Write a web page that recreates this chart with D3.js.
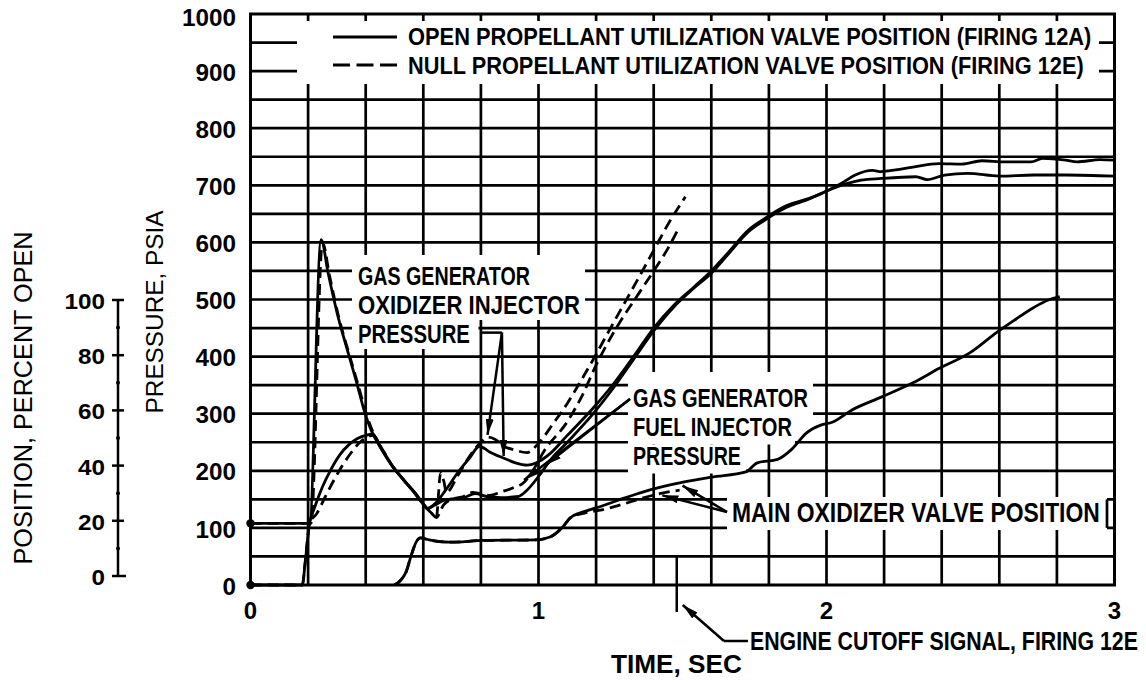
<!DOCTYPE html>
<html>
<head>
<meta charset="utf-8">
<script src="https://cdnjs.cloudflare.com/ajax/libs/d3/7.8.5/d3.min.js"></script>
<style>
  html, body { margin: 0; padding: 0; background: #fff; }
  svg text { font-family: "Liberation Sans Narrow", "Liberation Sans", Arial, sans-serif; font-weight: bold; fill: #000; }
  svg text.title { font-family: "Liberation Sans", Arial, sans-serif; font-weight: normal; }
</style>
</head>
<body>
<svg id="chart" width="1146" height="682"></svg>
<script>
// ---- Gas generator start transient: time (sec) vs pressure (psia) ----
// Firing 12A, open propellant utilization valve (solid)
const oxInjectorOpen = [
  [0,108],[0.205,108],[0.245,605],[0.27,545],[0.30,478],[0.34,405],[0.37,352],[0.395,305],
  [0.42,270],[0.45,242],[0.49,210],[0.53,185],[0.57,162],[0.60,142],[0.615,134],[0.64,142],
  [0.68,168],[0.72,197],[0.76,222],[0.795,243],[0.83,233],[0.88,222],[0.92,214],[0.96,210],
  [1.0,216],[1.04,230],[1.1,262],[1.19,310],[1.26,352],[1.33,400],[1.4,450],[1.47,490],
  [1.54,522],[1.6,550],[1.66,583],[1.73,622],[1.78,640],[1.86,664],[1.94,677],[1.98,685],
  [2.06,706],[2.1,718],[2.16,726],[2.19,724],[2.24,727],[2.3,732],[2.39,738],[2.47,737],
  [2.54,743],[2.62,741],[2.71,741],[2.75,747],[2.83,744],[2.87,741],[2.95,745],[3.0,744]
];
const fuelInjectorOpen = [
  [0,0],[0.18,0],[0.19,40],[0.205,108],[0.22,132],[0.25,172],[0.28,203],[0.31,228],[0.34,245],
  [0.37,256],[0.40,262],[0.425,264],[0.45,242],[0.49,210],[0.53,185],[0.57,162],[0.60,142],
  [0.615,134],[0.64,140],[0.67,148],[0.70,151],[0.74,153],[0.78,160],[0.82,155],[0.87,153],
  [0.93,155],[0.96,166],[1.0,190],[1.04,218],[1.1,250],[1.19,300],[1.26,345],[1.33,395],
  [1.4,445],[1.47,487],[1.54,520],[1.6,546],[1.66,580],[1.73,619],[1.78,637],[1.86,661],
  [1.94,676],[2.0,690],[2.07,703],[2.12,709],[2.19,712],[2.31,715],[2.35,710],[2.41,718],
  [2.49,721],[2.6,716],[2.72,718],[2.83,718],[3.0,716]
];
// Firing 12E, null propellant utilization valve (dashed), cutoff near 1.5 sec
const oxInjectorNull = [
  [0,108],[0.21,108],[0.25,600],[0.275,540],[0.305,472],[0.345,400],[0.375,348],[0.40,303],
  [0.425,268],[0.455,240],[0.495,207],[0.535,182],[0.575,158],[0.605,138],[0.63,125],
  [0.645,118],[0.66,196],[0.672,180],[0.68,162],[0.72,192],[0.76,225],[0.80,250],[0.825,259],
  [0.85,255],[0.88,243],[0.92,236],[0.96,232],[1.0,248],[1.05,282],[1.1,318],[1.15,360],
  [1.2,404],[1.25,450],[1.3,495],[1.35,540],[1.4,586],[1.45,632],[1.51,680]
];
const fuelInjectorNull = [
  [0,0],[0.18,0],[0.19,40],[0.205,108],[0.23,125],[0.26,155],[0.29,184],[0.32,210],[0.35,232],
  [0.38,250],[0.405,259],[0.425,262],[0.455,240],[0.495,207],[0.535,182],[0.575,158],
  [0.605,138],[0.63,125],[0.645,118],[0.67,140],[0.70,150],[0.74,155],[0.77,162],[0.80,160],
  [0.83,157],[0.87,163],[0.91,170],[0.95,180],[0.98,200],[1.02,235],[1.1,286],[1.15,330],
  [1.2,385],[1.27,450],[1.35,512],[1.4,550],[1.45,590],[1.49,628]
];
// Main oxidizer valve position, percent open
const valveOpen = [
  [0.5,0],[0.52,1.5],[0.54,4.5],[0.56,11],[0.575,15],[0.59,16.5],[0.62,15.8],[0.69,15],
  [0.81,15.6],[0.99,15.8],[1.04,16.8],[1.085,20.4],[1.11,23.5],[1.155,25.6],[1.2,27],
  [1.3,30.5],[1.39,33.4],[1.49,35.8],[1.6,37.8],[1.72,39.6],[1.76,42.8],[1.83,44],
  [1.88,47.6],[1.93,53.2],[1.98,56],[2.02,57],[2.09,61.4],[2.19,65.8],[2.3,70.8],
  [2.39,75.8],[2.5,81.5],[2.59,88.4],[2.65,92.6],[2.72,97.2],[2.77,99.8],[2.81,101]
];
const valveNull = [
  [0.5,0],[0.52,1.5],[0.54,4.5],[0.56,11],[0.575,15],[0.59,16.5],[0.62,15.8],[0.69,15],
  [0.81,15.6],[0.99,15.8],[1.04,16.8],[1.085,20.4],[1.11,23.5],[1.16,25.2],[1.22,26.3],
  [1.29,28.2],[1.36,30.4],[1.43,32.2],[1.49,33.2]
];

// Axis ticks and labels
const timeTicks = [0, 1, 2, 3];
const pressureTicks = [0,100,200,300,400,500,600,700,800,900,1000];
const positionTicks = [0,20,40,60,80,100];
const positionMinor = [10,30,50,70,90];
const legendLabels = [
  "OPEN PROPELLANT UTILIZATION VALVE POSITION (FIRING 12A)",
  "NULL PROPELLANT UTILIZATION VALVE POSITION (FIRING 12E)"
];
const engineCutoffTime = 1.48;

// ---- scales ----
const x = d3.scaleLinear().domain([0, 3]).range([250.5, 1114.5]);
const y = d3.scaleLinear().domain([0, 1000]).range([585, 14]);
const yPos = d3.scaleLinear().domain([0, 100]).range([576, 300]);
const psiPerPercent = 5;   // valve trace shares the grid: 100 % open = 500 psia line

const svg = d3.select("#chart");
svg.append("rect").attr("width", 1146).attr("height", 682).attr("fill", "#fff");

const ink = "#000";
const gridW = 2.7, curveW = 2.8;

// ---- grid ----
const grid = svg.append("g").attr("stroke", ink).attr("stroke-width", gridW);
d3.range(1, 15).map(i => i * 0.2).forEach(t => {
  grid.append("line").attr("x1", x(t)).attr("x2", x(t)).attr("y1", y(0)).attr("y2", y(1000));
});
d3.range(50, 1000, 50).forEach(p => {
  grid.append("line").attr("x1", x(0)).attr("x2", x(3)).attr("y1", y(p)).attr("y2", y(p));
});

// white panels behind the legend and the callout texts
const panels = svg.append("g").attr("fill", "#fff");
function panel(x0, x1, y0, y1) {
  panels.append("rect").attr("x", x0).attr("y", y0).attr("width", x1 - x0).attr("height", y1 - y0);
}
panel(297, 1099, 15.5, 84);      // legend
panel(352, 585, 255, 320);       // oxidizer callout, rows 1-2
panel(352, 478.5, 320, 349);     // oxidizer callout, row 3
panel(628, 813, 372, 416);       // fuel callout, row 1
panel(628, 795, 416, 444.5);     // fuel callout, row 2
panel(628, 746, 444.5, 473.5);   // fuel callout, row 3
panel(727, 1107, 497, 530);      // valve callout

// bracket closing the valve callout
svg.append("line").attr("x1", 1107).attr("x2", 1107).attr("y1", y(150)).attr("y2", y(100))
  .attr("stroke", ink).attr("stroke-width", gridW);

// top-edge ticks above the legend
d3.range(1, 15).map(i => i * 0.2).forEach(t => {
  svg.append("line").attr("x1", x(t)).attr("x2", x(t)).attr("y1", y(1000)).attr("y2", y(1000) + 7)
    .attr("stroke", ink).attr("stroke-width", gridW);
});

// plot frame
svg.append("rect").attr("x", x(0)).attr("y", y(1000)).attr("width", x(3) - x(0)).attr("height", y(0) - y(1000))
  .attr("fill", "none").attr("stroke", ink).attr("stroke-width", 3);

// ---- traces ----
const linePsi = d3.line().x(d => x(d[0])).y(d => y(d[1])).curve(d3.curveMonotoneX);
const linePct = d3.line().x(d => x(d[0])).y(d => y(d[1] * psiPerPercent)).curve(d3.curveMonotoneX);
const traces = svg.append("g").attr("fill", "none").attr("stroke", ink).attr("stroke-width", curveW)
  .attr("stroke-linejoin", "round");
const dash = "11,6";
traces.append("path").attr("d", linePsi(oxInjectorNull)).attr("stroke-dasharray", dash);
traces.append("path").attr("d", linePsi(fuelInjectorNull)).attr("stroke-dasharray", dash);
traces.append("path").attr("d", linePct(valveNull)).attr("stroke-dasharray", dash);
traces.append("path").attr("d", linePsi(oxInjectorOpen));
traces.append("path").attr("d", linePsi(fuelInjectorOpen));
traces.append("path").attr("d", linePct(valveOpen));

// starting values marked on the pressure axis
[108, 0].forEach(p => {
  svg.append("circle").attr("cx", x(0)).attr("cy", y(p)).attr("r", 4.2).attr("fill", ink);
});

// ---- leaders and arrows ----
const defs = svg.append("defs");
defs.append("marker").attr("id", "head").attr("viewBox", "0 0 16 8").attr("refX", 16).attr("refY", 4)
  .attr("markerWidth", 16).attr("markerHeight", 8).attr("markerUnits", "userSpaceOnUse").attr("orient", "auto")
  .append("path").attr("d", "M0,0 L16,4 L0,8 Z").attr("fill", ink);

const leaders = svg.append("g").attr("fill", "none").attr("stroke", ink).attr("stroke-width", 2.5);
function leader(points, arrow) {
  const p = leaders.append("path").attr("d", d3.line()(points));
  if (arrow) p.attr("marker-end", "url(#head)");
}
// oxidizer injector pressure callout
const oxElbow = [x(0.873), y(442)];
leader([[x(0.8), y(442)], oxElbow]);
leader([oxElbow, [x(0.823), y(263)]], true);
leader([oxElbow, [x(0.879), y(226)]], true);
// fuel injector pressure callout
const fuelRoot = [630, 399];
leader([fuelRoot, [x(0.95), y(184)]], true);
leader([fuelRoot, [x(1.025), y(210)]], true);
// main oxidizer valve position callout
const valveRoot = [727, 512];
leader([valveRoot, [x(1.5), y(174)]], true);
leader([valveRoot, [x(1.43), y(157)]], true);
// engine cutoff signal marker
leader([[x(engineCutoffTime), y(50)], [x(engineCutoffTime), 612]]);
leader([[748, 641], [724, 641]]);
leader([[724, 641], [x(engineCutoffTime) + 6, 605]], true);

// ---- text ----
// Draws a label whose cap height follows `size` and whose width is exactly `len`:
// the font size is chosen so the natural width equals `len`, then the glyphs are
// stretched vertically back to the intended height.
function put(txt, x0, cy, size, len, anchor, cls, rotate) {
  const g = svg.append("g");
  const t = g.append("text").attr("x", 0).attr("y", 0)
    .attr("font-size", size).attr("text-anchor", anchor || "start").text(txt);
  if (cls) t.attr("class", cls);
  let ky = 1;
  if (len) {
    const w = t.node().getComputedTextLength();
    const s2 = size * len / w;
    t.attr("font-size", s2);
    ky = size / s2;
  }
  const base = 0.36 * size;
  g.attr("transform", `translate(${x0},${cy})` + (rotate ? ` rotate(${rotate})` : "") +
    ` translate(0,${base}) scale(1,${ky})`);
  return t;
}

// legend
svg.append("line").attr("x1", 333).attr("x2", 397).attr("y1", 37).attr("y2", 37)
  .attr("stroke", ink).attr("stroke-width", curveW);
svg.append("line").attr("x1", 333).attr("x2", 397).attr("y1", 65).attr("y2", 65)
  .attr("stroke", ink).attr("stroke-width", curveW).attr("stroke-dasharray", "17,6.5");
put(legendLabels[0], 408, 36, 24, 684);
put(legendLabels[1], 408, 65, 24, 676);

// callouts
put("GAS GENERATOR", 358, 276, 25, 172);
put("OXIDIZER INJECTOR", 358, 305, 25, 222);
put("PRESSURE", 358, 334, 25, 112);
put("GAS GENERATOR", 633, 398, 25, 175);
put("FUEL INJECTOR", 633, 427, 25, 159);
put("PRESSURE", 633, 456, 25, 108);
put("MAIN OXIDIZER VALVE POSITION", 732, 512, 27, 368);
put("ENGINE CUTOFF SIGNAL, FIRING 12E", 750, 641, 26, 388);

// pressure axis labels (digit cell about 13.5 px wide)
const pressureLabelWidth = v => String(v).length * 13.5;
pressureTicks.forEach(v => put(String(v), 236, y(v) + (v === 1000 ? 3 : 1), 24,
  pressureLabelWidth(v), "end"));
// time axis labels
timeTicks.forEach(v => put(String(v), x(v), 610, 24, null, "middle"));
put("TIME, SEC", 611, 664, 25, 131);

// position axis
const posAxis = svg.append("g").attr("stroke", ink).attr("stroke-width", 2.5);
const posX = 118;
posAxis.append("line").attr("x1", posX).attr("x2", posX).attr("y1", yPos(0)).attr("y2", yPos(100));
positionTicks.forEach(v => {
  posAxis.append("line").attr("x1", posX - 6).attr("x2", posX + (v === 0 ? 8 : 6))
    .attr("y1", yPos(v)).attr("y2", yPos(v));
});
positionMinor.forEach(v => {
  posAxis.append("circle").attr("cx", posX).attr("cy", yPos(v)).attr("r", 2).attr("fill", ink).attr("stroke", "none");
});
const positionLabelWidth = v => String(v).length * 13.5;
positionTicks.forEach(v => put(String(v), 105, yPos(v) + 1, 22, positionLabelWidth(v), "end"));

// axis titles
put("POSITION, PERCENT OPEN", 23, 398, 26, 333, "middle", "title", -90);
put("PRESSURE, PSIA", 154, 312, 24, 203, "middle", "title", -90);
</script>
</body>
</html>
